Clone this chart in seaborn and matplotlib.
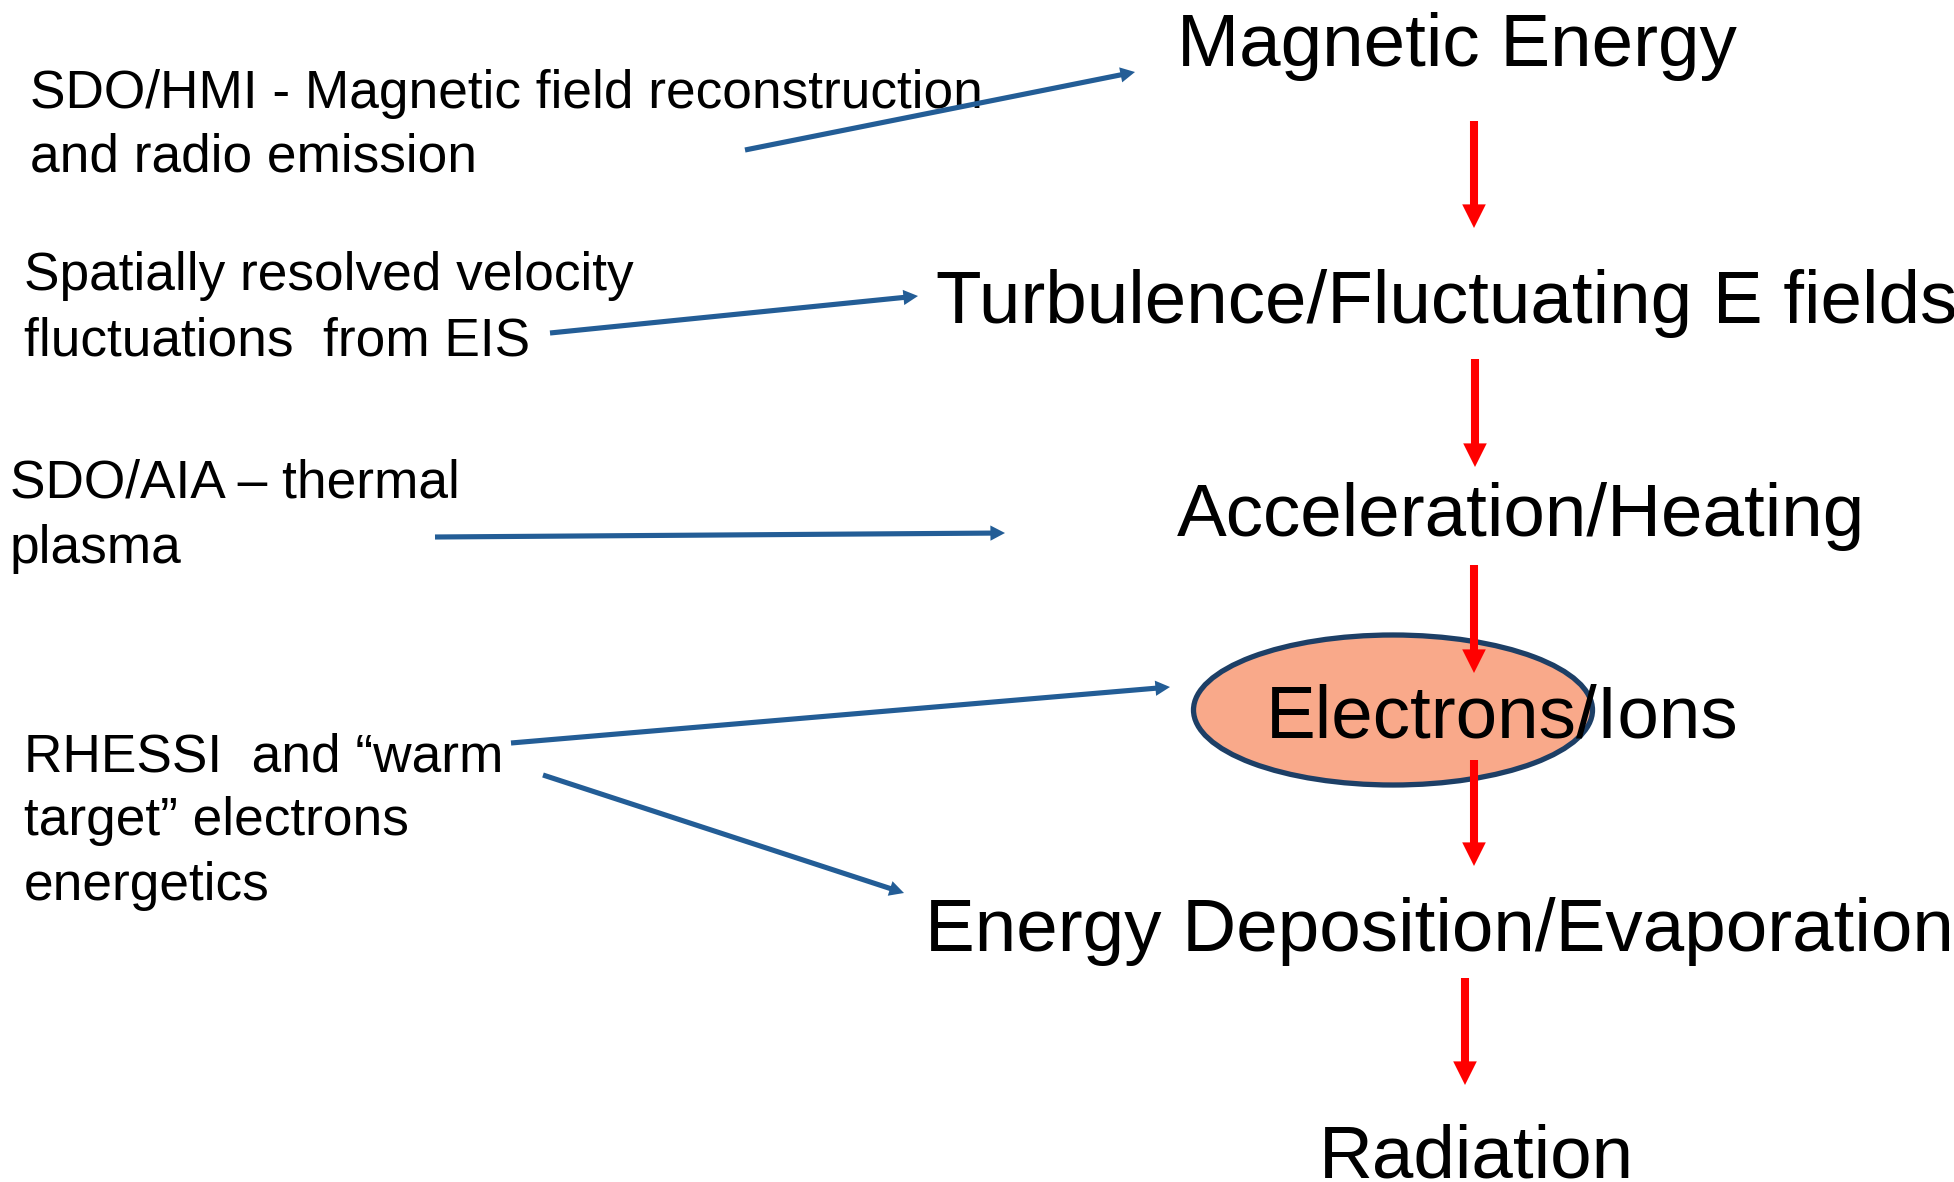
import matplotlib
matplotlib.use("Agg")
import matplotlib.pyplot as plt
import seaborn as sns
from matplotlib.patches import FancyArrowPatch, Ellipse, ArrowStyle

# ---- content ----
stages = ["Magnetic Energy", "Turbulence/Fluctuating E fields", "Acceleration/Heating",
          "Electrons/Ions", "Energy Deposition/Evaporation", "Radiation"]
sources = [
    ["SDO/HMI - Magnetic field reconstruction", "and radio emission"],
    ["Spatially resolved velocity", "fluctuations  from EIS"],
    ["SDO/AIA \u2013 thermal", "plasma"],
    ["RHESSI  and \u201cwarm", "target\u201d electrons", "energetics"],
]
highlighted_stage = "Electrons/Ions"

# ---- layout (pixel coordinates of a 1954x1182 canvas) ----
W, H = 1954, 1182
stage_x = [1177, 936, 1177, 1266, 925, 1319]
stage_baseline = [66, 323, 536, 737, 951, 1177]
source_x = [30, 24, 10, 24]
source_baseline = [[108, 172], [290, 355], [498, 563], [771, 835, 900]]
red_arrows = [((1474, 121), (1474, 228)), ((1475, 359), (1475, 467)),
              ((1474, 565), (1474, 673)), ((1474, 760), (1474, 866)),
              ((1465, 978), (1465, 1085))]
blue_arrows = [((745, 150), (1135, 72)), ((550, 333), (918, 296)),
               ((435, 537), (1005, 533)), ((511, 743), (1170, 687)),
               ((543, 775), (904, 893))]
ellipse_center = (1393, 710)
ellipse_size = (399, 150)

RED = "#ff0000"
BLUE = "#235d96"
FILL = "#f9a98a"
EDGE = "#1d3f66"

sns.set_theme(style="white")
plt.rcParams["font.family"] = ["Liberation Sans", "DejaVu Sans"]

fig = plt.figure(figsize=(W / 100, H / 100), dpi=100)
ax = fig.add_axes([0, 0, 1, 1])
ax.set_xlim(0, W)
ax.set_ylim(H, 0)
ax.axis("off")

# highlighted ellipse
ax.add_patch(Ellipse(ellipse_center, ellipse_size[0], ellipse_size[1],
                     facecolor=FILL, edgecolor=EDGE, lw=3.8, zorder=1))

# stage texts
for label, x, y in zip(stages, stage_x, stage_baseline):
    ax.text(x, y, label, fontsize=53.7, color="black", ha="left", va="baseline", zorder=3)

# source texts
for lines, x, ys in zip(sources, source_x, source_baseline):
    for line, y in zip(lines, ys):
        ax.text(x, y, line, fontsize=38.3, color="black", ha="left", va="baseline", zorder=2)

# red flow arrows
red_style = ArrowStyle("simple", head_length=17, head_width=17, tail_width=5.8)
for (p0, p1) in red_arrows:
    ax.add_patch(FancyArrowPatch(p0, p1, arrowstyle=red_style, mutation_scale=1,
                                 shrinkA=0, shrinkB=0, color=RED, lw=0, zorder=4))

# blue pointer arrows
blue_style = ArrowStyle("simple", head_length=10.5, head_width=11, tail_width=3.7)
for (p0, p1) in blue_arrows:
    ax.add_patch(FancyArrowPatch(p0, p1, arrowstyle=blue_style, mutation_scale=1,
                                 shrinkA=0, shrinkB=0, color=BLUE, lw=0, zorder=4))

fig.savefig("out.png", dpi=100, facecolor="white")
